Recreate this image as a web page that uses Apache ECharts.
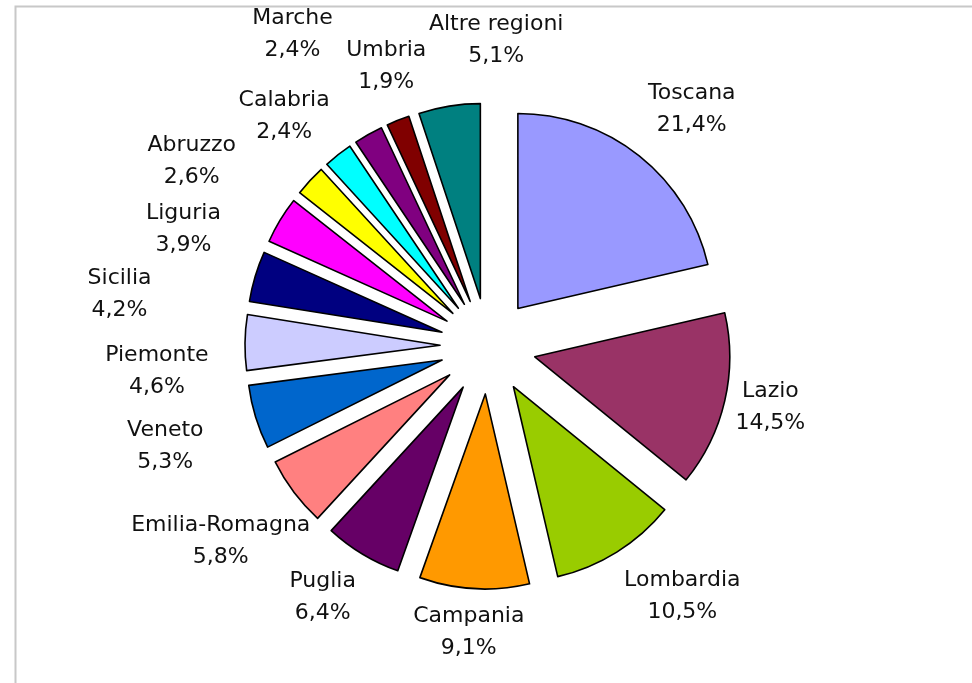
<!DOCTYPE html>
<html>
<head>
<meta charset="utf-8">
<script src="https://cdn.jsdelivr.net/npm/echarts@6/dist/echarts.min.js"></script>
<style>
  html, body { margin: 0; padding: 0; background: #fff; }
  #chart { width: 972px; height: 683px; }
</style>
</head>
<body>
<div id="chart"></div>
<script>
  /** regioni */
  const regions = ['Toscana', 'Lazio', 'Lombardia', 'Campania', 'Puglia', 'Emilia-Romagna', 'Veneto',
    'Piemonte', 'Sicilia', 'Liguria', 'Abruzzo', 'Calabria', 'Marche', 'Umbria', 'Altre regioni']
  /** quote percentuali */
  const shares = [21.4, 14.5, 10.5, 9.1, 6.4, 5.8, 5.3, 4.6, 4.2, 3.9, 2.6, 2.4, 2.4, 1.9, 5.1]
  /** colori (tavolozza Excel) */
  const colors = ['#9999FF', '#993366', '#99CC00', '#FF9900', '#660066', '#FF8080', '#0066CC',
    '#CCCCFF', '#000080', '#FF00FF', '#FFFF00', '#00FFFF', '#800080', '#800000', '#008080']

  /** posizione etichette: distanza dal centro e rotazione rispetto all'angolo medio */
  const labelRadius = [312, 289, 317, 287, 301, 331, 338, 332, 372, 326, 349, 307, 368, 298, 306]
  const labelTurn = [2.3, -0.7, -5.8, 0.6, 2.2, 0.8, -0.3, -5.1, -8.7, -10.3, -11, -3.5, -2.6, 1.8, 10.7]

  const cx = 488
  const cy = 346

  /** angolo medio di ogni fetta (gradi, orario da ore 12) */
  const total = shares.reduce((a, b) => a + b, 0)
  const midAngles = []
  let acc = 0
  shares.forEach(v => {
    midAngles.push((acc + v / 2) / total * 360)
    acc += v
  })

  /** etichette come testo grafico (il layout delle etichette non segue le fette selezionate) */
  const labels = regions.map((name, i) => {
    const a = (midAngles[i] + labelTurn[i]) * Math.PI / 180
    return {
      type: 'text',
      silent: true,
      x: cx + Math.sin(a) * labelRadius[i],
      y: cy - Math.cos(a) * labelRadius[i],
      style: {
        text: name + '\n' + shares[i].toFixed(1).replace('.', ',') + '%',
        align: 'center',
        verticalAlign: 'middle',
        fontFamily: 'DejaVu Sans',
        fontSize: 22,
        lineHeight: 32,
        fill: '#111'
      }
    }
  })

  const chart = echarts.init(document.getElementById('chart'))
  chart.setOption({
    animation: false,
    graphic: [{
      type: 'rect',
      silent: true,
      shape: { x: 15.5, y: 6.5, width: 1000, height: 1000 },
      style: { fill: 'none', stroke: '#c8c8c8', lineWidth: 2 }
    }].concat(labels),
    series: [{
      type: 'pie',
      center: [cx, cy],
      radius: 195,
      startAngle: 90,
      clockwise: true,
      selectedMode: 'multiple',
      selectedOffset: 48,
      emphasis: { disabled: true },
      itemStyle: { borderColor: '#000', borderWidth: 1.6 },
      select: { itemStyle: { borderColor: '#000', borderWidth: 1.6 } },
      label: { show: false },
      labelLine: { show: false },
      data: regions.map((name, i) => ({
        name: name,
        value: shares[i],
        selected: true,
        itemStyle: { color: colors[i] }
      }))
    }]
  })
</script>
</body>
</html>
